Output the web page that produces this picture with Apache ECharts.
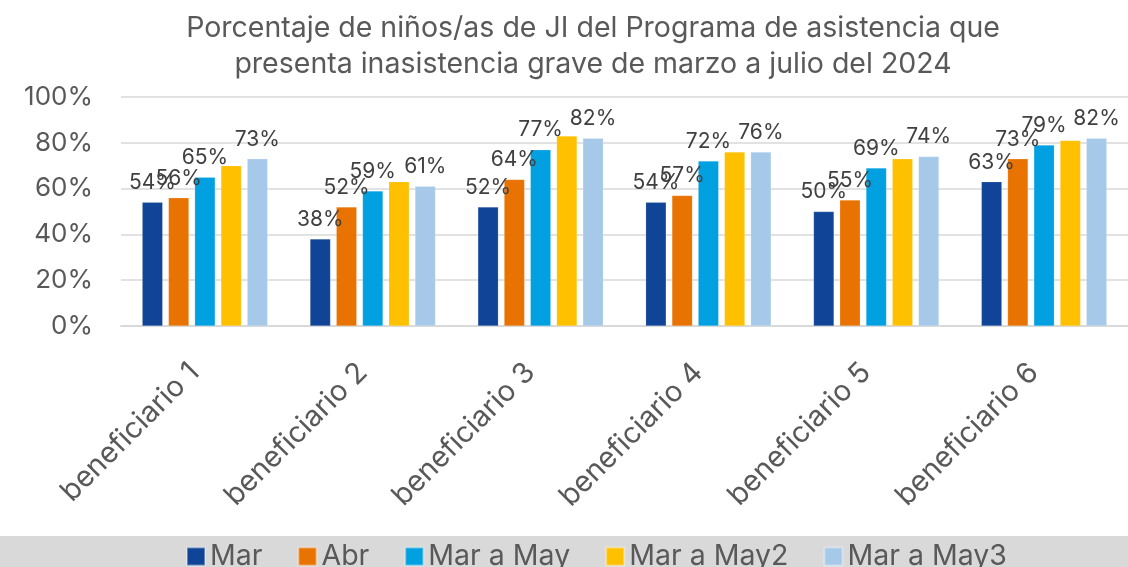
<!DOCTYPE html>
<html>
<head>
<meta charset="utf-8">
<script src="https://cdn.jsdelivr.net/npm/echarts@6/dist/echarts.min.js"></script>
<style>
  html, body { margin: 0; padding: 0; background: #fff; }
  #chart { width: 1128px; height: 567px; }
</style>
</head>
<body>
<div id="chart"></div>
<script>
const categories = ['beneficiario 1', 'beneficiario 2', 'beneficiario 3', 'beneficiario 4', 'beneficiario 5', 'beneficiario 6']
const seriesNames = ['Mar', 'Abr', 'Mar a May', 'Mar a May2', 'Mar a May3']
const mar = [54, 38, 52, 54, 50, 63]
const abr = [56, 52, 64, 57, 55, 73]
const marMay = [65, 59, 77, 72, 69, 79]
const marMay2 = [70, 63, 83, 76, 73, 81]
const marMay3 = [73, 61, 82, 76, 74, 82]
const yTicks = [0, 20, 40, 60, 80, 100]

const colors = ['#0f4496', '#e97300', '#00a0e1', '#ffc000', '#a6c9ea']
const font = 'Inter, Liberation Sans, sans-serif'

const chart = echarts.init(document.getElementById('chart'))

function makeSeries(name, data, color, withLabel) {
  return {
    name,
    type: 'bar',
    data,
    barWidth: 20.5,
    barGap: '28%',
    itemStyle: { color, borderColor: 'rgba(255,255,255,0.35)', borderWidth: 0.5 },
    label: {
      show: withLabel,
      position: 'top',
      distance: 9,
      formatter: '{c}%',
      color: '#404040',
      fontSize: 21,
      fontFamily: font,
    },
  }
}

chart.setOption({
  animation: false,
  backgroundColor: '#fff',
  color: colors,
  title: {
    text: 'Porcentaje de niños/as de JI del Programa de asistencia que\npresenta inasistencia grave de marzo a julio del 2024',
    left: 588,
    top: 5,
    textAlign: 'center',
    textStyle: {
      color: '#595959',
      fontSize: 28.5,
      fontWeight: 'normal',
      fontFamily: font,
      lineHeight: 36,
    },
  },
  graphic: [
    {
      type: 'rect',
      z: -1,
      shape: { x: 0, y: 536, width: 1128, height: 31 },
      style: { fill: '#d9d9d9' },
    },
  ],
  legend: {
    data: seriesNames,
    left: 186,
    top: 542,
    icon: 'rect',
    itemWidth: 18,
    itemHeight: 18,
    itemGap: 35,
    padding: 0,
    textStyle: { color: '#595959', fontSize: 28.5, fontFamily: font },
  },
  grid: { left: 121, right: -12.5, top: 97, bottom: 241, containLabel: false },
  xAxis: {
    type: 'category',
    data: categories,
    axisLine: { lineStyle: { color: '#d9d9d9', width: 2 } },
    axisTick: { show: false },
    axisLabel: {
      rotate: 45,
      margin: 52,
      verticalAlign: 'bottom',
      color: '#595959',
      fontSize: 29,
      fontFamily: font,
      interval: 0,
    },
  },
  yAxis: {
    type: 'value',
    min: yTicks[0],
    max: yTicks[yTicks.length - 1],
    interval: 20,
    axisLine: { show: false },
    axisTick: { show: false },
    axisLabel: {
      formatter: '{value}%',
      margin: 28,
      color: '#595959',
      fontSize: 26,
      fontFamily: font,
    },
    splitLine: { lineStyle: { color: '#d9d9d9', width: 1.5 } },
  },
  series: [
    makeSeries(seriesNames[0], mar, colors[0], true),
    makeSeries(seriesNames[1], abr, colors[1], true),
    makeSeries(seriesNames[2], marMay, colors[2], true),
    makeSeries(seriesNames[3], marMay2, colors[3], false),
    makeSeries(seriesNames[4], marMay3, colors[4], true),
  ],
})
</script>
</body>
</html>
